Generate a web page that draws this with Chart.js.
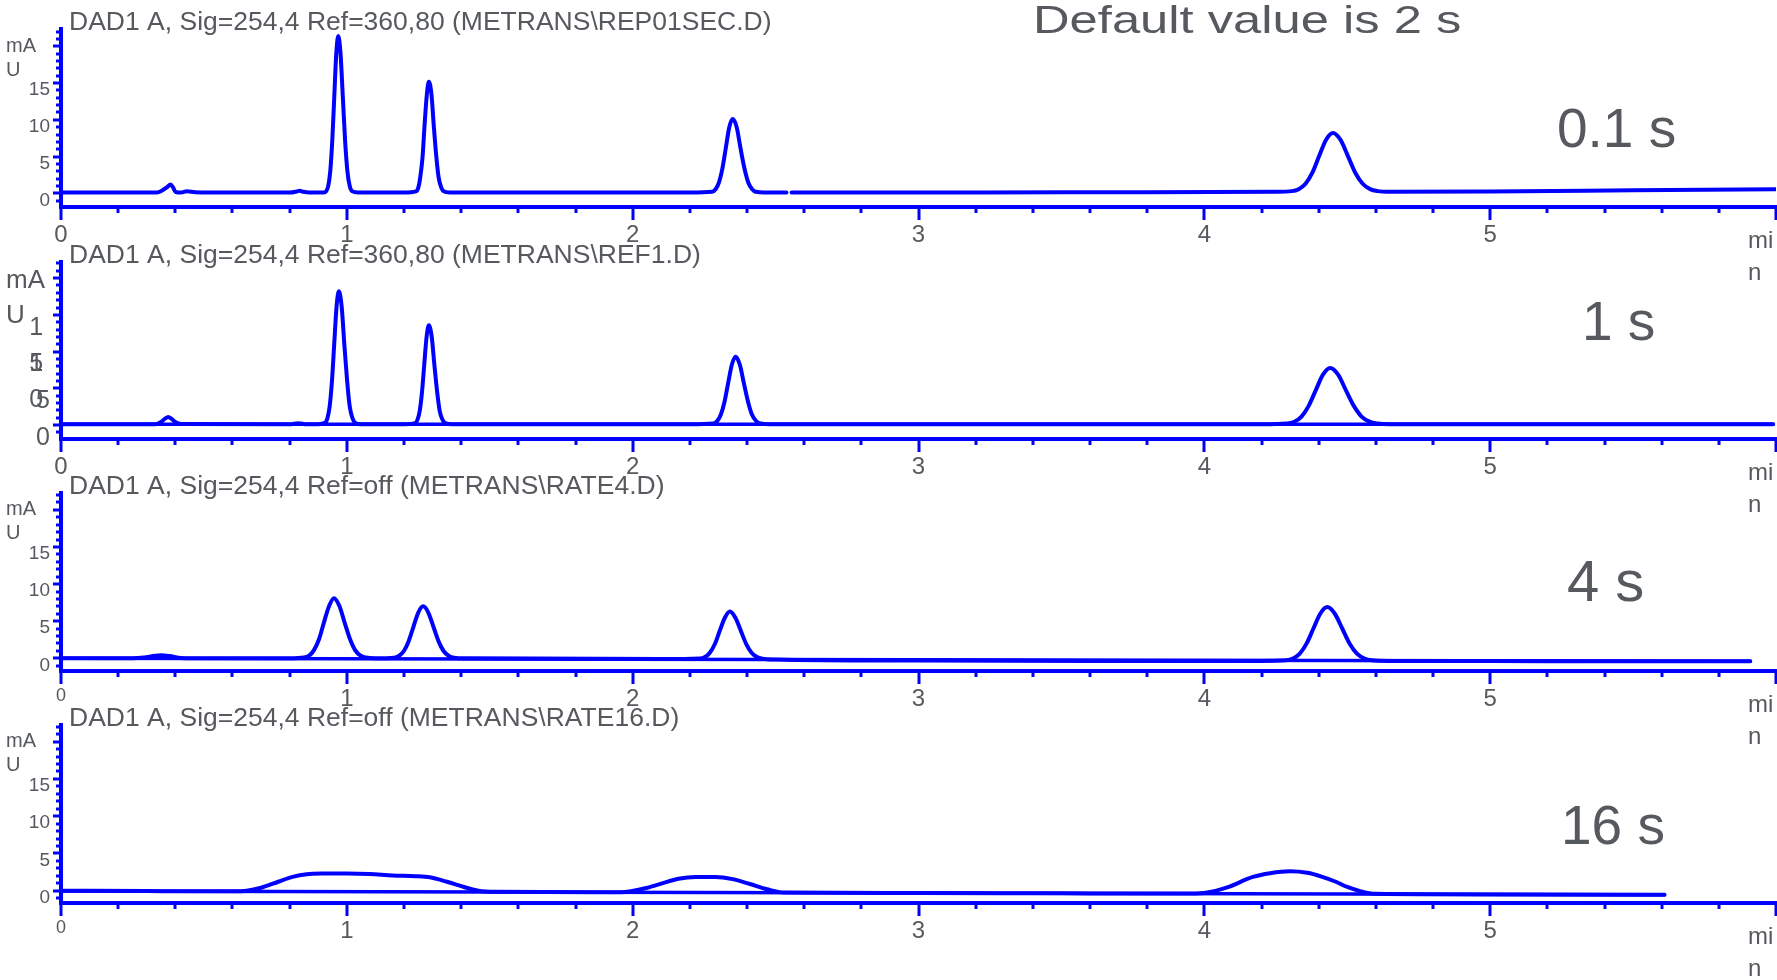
<!DOCTYPE html>
<html>
<head>
<meta charset="utf-8">
<title>DAD1 A response time</title>
<script src="https://cdn.jsdelivr.net/npm/chart.js@4.4.1/dist/chart.umd.min.js"></script>
<style>
  html, body { margin: 0; padding: 0; background: #fff; overflow: hidden; }
  #wrap { position: relative; width: 1777px; height: 980px; }
  #wrap canvas { position: absolute; left: 0; top: 0; }
</style>
</head>
<body>
<div id="wrap">
  <canvas id="rep01" width="1777" height="980"></canvas>
  <canvas id="ref1" width="1777" height="980"></canvas>
  <canvas id="rate4" width="1777" height="980"></canvas>
  <canvas id="rate16" width="1777" height="980"></canvas>
</div>
<script>
// Tick labels
const xTickValues = [0, 1, 2, 3, 4, 5];
const yTickValues = [0, 5, 10, 15];
const yTickLabels = ['0', '5', '10', '15'];
const yTickLabelsWrapped = [['0', ''], ['5', ''], ['1 ', '0 '], ['1 ', '5 ']];

// REP01SEC.D - 0.1 s response time (min / mAU)
const rep01Time = [
  0, 0.20, 0.335, 0.355, 0.372, 0.383, 0.392, 0.400, 0.42, 0.44, 0.47, 0.60, 0.80, 0.825, 0.835, 0.848, 0.87, 0.918,
  0.928, 0.935, 0.942, 0.949, 0.956, 0.963, 0.970, 0.978, 0.986, 0.994, 1.002, 1.010, 1.018, 1.040,
  1.200, 1.242, 1.250, 1.257, 1.265, 1.272, 1.280, 1.287, 1.296, 1.304, 1.313, 1.321, 1.330, 1.338, 1.360,
  1.80, 2.20, 2.278, 2.290, 2.302, 2.314, 2.326, 2.338, 2.350, 2.364, 2.377, 2.391, 2.404, 2.418, 2.431, 2.460, 2.538, 2.547, 2.556, 3.20, 3.80, 4.25,
  4.306, 4.330, 4.354, 4.378, 4.402, 4.426, 4.450, 4.476, 4.502, 4.528, 4.554, 4.580, 4.606, 4.650, 5.00, 5.50, 6.00
];
const rep01Signal = [
  0.1, 0.1, 0.1, 0.4, 0.85, 1.2, 0.8, 0.2, 0.1, 0.28, 0.15, 0.1, 0.1, 0.25, 0.35, 0.2, 0.1, 0.1,
  0.3, 1.0, 3.0, 7.1, 13.1, 19.0, 21.4, 19.0, 13.1, 7.1, 3.0, 1.0, 0.3, 0.1,
  0.1, 0.27, 0.77, 2.2, 5.0, 9.3, 13.5, 15.2, 13.5, 9.3, 5.0, 2.2, 0.8, 0.3, 0.1,
  0.1, 0.1, 0.2, 0.55, 1.5, 3.4, 6.2, 9.0, 10.1, 9.0, 6.2, 3.4, 1.5, 0.55, 0.2, 0.1, 0.1, null, 0.1, 0.1, 0.15, 0.2,
  0.29, 0.56, 1.3, 2.8, 5.1, 7.3, 8.2, 7.3, 5.1, 2.8, 1.3, 0.56, 0.29, 0.2, 0.25, 0.4, 0.55
];

// REF1.D - 1 s response time
const ref1Time = [
  0, 0.33, 0.35, 0.365, 0.375, 0.385, 0.40, 0.42, 0.80, 0.83, 0.86, 0.90,
  0.924, 0.932, 0.940, 0.948, 0.956, 0.964, 0.972, 0.982, 0.991, 1.001, 1.010, 1.020, 1.029, 1.050,
  1.200, 1.239, 1.247, 1.255, 1.263, 1.271, 1.279, 1.287, 1.297, 1.306, 1.316, 1.325, 1.335, 1.344, 1.370,
  2.200, 2.282, 2.295, 2.308, 2.321, 2.334, 2.347, 2.360, 2.375, 2.389, 2.404, 2.418, 2.433, 2.447, 2.480,
  4.200, 4.290, 4.315, 4.340, 4.365, 4.390, 4.415, 4.440, 4.468, 4.495, 4.523, 4.550, 4.578, 4.605, 4.650, 5.30, 5.99
];
const ref1Signal = [
  0.1, 0.1, 0.4, 0.9, 1.1, 0.9, 0.4, 0.15, 0.1, 0.25, 0.1, 0.1,
  0.3, 0.9, 2.55, 6.0, 11.1, 16.1, 18.2, 16.1, 11.1, 6.0, 2.55, 0.9, 0.3, 0.1,
  0.1, 0.25, 0.7, 1.9, 4.5, 8.3, 12.0, 13.6, 12.0, 8.3, 4.5, 1.9, 0.7, 0.25, 0.1,
  0.1, 0.2, 0.5, 1.35, 3.1, 5.7, 8.2, 9.3, 8.2, 5.7, 3.1, 1.35, 0.5, 0.2, 0.1,
  0.1, 0.2, 0.45, 1.15, 2.6, 4.75, 6.85, 7.75, 6.85, 4.75, 2.6, 1.15, 0.45, 0.2, 0.1, 0.1, 0.1
];
const ref1BaseTime = [0, 5.99];
const ref1BaseValue = [0.1, 0.1];

// RATE4.D - 4 s response time
const rate4Time = [
  0, 0.25, 0.29, 0.33, 0.35, 0.38, 0.42, 0.50, 0.80,
  0.850, 0.868, 0.885, 0.903, 0.920, 0.938, 0.955, 0.974, 0.992, 1.011, 1.029, 1.048, 1.066, 1.100,
  1.165, 1.182, 1.199, 1.216, 1.233, 1.250, 1.267, 1.285, 1.303, 1.321, 1.339, 1.357, 1.375, 1.420,
  2.100, 2.235, 2.253, 2.270, 2.288, 2.305, 2.323, 2.340, 2.359, 2.378, 2.397, 2.416, 2.435, 2.454, 2.500,
  3.00, 3.60, 4.20, 4.286, 4.310, 4.334, 4.358, 4.382, 4.406, 4.430, 4.456, 4.482, 4.508, 4.534, 4.560, 4.586, 4.650, 5.20, 5.91
];
const rate4Signal = [
  0, 0, 0.1, 0.35, 0.4, 0.3, 0.05, 0, 0,
  0.1, 0.35, 1.1, 2.6, 4.85, 7.05, 8.1, 7.05, 4.85, 2.6, 1.1, 0.35, 0.1, 0,
  0.08, 0.31, 0.95, 2.28, 4.25, 6.17, 7.0, 6.17, 4.25, 2.28, 0.95, 0.31, 0.08, 0,
  -0.1, -0.03, 0.18, 0.76, 1.96, 3.75, 5.5, 6.3, 5.5, 3.75, 1.96, 0.76, 0.18, -0.05, -0.15,
  -0.3, -0.35, -0.35, -0.27, -0.03, 0.63, 2.01, 4.05, 6.04, 6.9, 6.04, 4.05, 2.01, 0.63, -0.03, -0.27, -0.35, -0.38, -0.4
];
const rate4BaseTime = [0, 5.91];
const rate4BaseValue = [0, -0.4];

// RATE16.D - 16 s response time
const rate16Time = [
  0, 0.30, 0.60, 0.65, 0.70, 0.76, 0.81, 0.86, 0.92, 1.00, 1.08, 1.16, 1.24, 1.29, 1.35, 1.41, 1.46, 1.52,
  1.96, 2.04, 2.10, 2.16, 2.22, 2.29, 2.35, 2.41, 2.47, 2.53, 3.00, 3.50,
  3.95, 4.01, 4.08, 4.17, 4.23, 4.30, 4.36, 4.41, 4.46, 4.50, 4.54, 4.60, 5.00, 5.61
];
const rate16Signal = [
  0, -0.05, -0.08, 0.0, 0.4, 1.2, 1.85, 2.2, 2.3, 2.32, 2.25, 2.05, 1.95, 1.8, 1.2, 0.5, 0.0, -0.15,
  -0.2, 0.3, 0.95, 1.6, 1.85, 1.85, 1.55, 0.9, 0.2, -0.25, -0.3, -0.35,
  -0.38, -0.25, 0.45, 1.85, 2.35, 2.6, 2.4, 1.9, 1.2, 0.5, 0.0, -0.42, -0.5, -0.55
];
const rate16BaseTime = [0, 5.61];
const rate16BaseValue = [-0.05, -0.55];

const TRACE = '#0000ff';
const INK = '#56595e';
const FONT = '"Liberation Sans", Arial, Helvetica, sans-serif';
Chart.defaults.font.family = FONT;

function points(xs, ys) {
  return xs.map((x, i) => ({ x: x, y: ys[i] }));
}

function drawText(ctx, text, x, y, size, stretch) {
  ctx.save();
  ctx.font = size + 'px ' + FONT;
  ctx.fillStyle = INK;
  ctx.textAlign = 'left';
  ctx.textBaseline = 'alphabetic';
  ctx.translate(x, y);
  ctx.scale(stretch, 1);
  ctx.fillText(text, 0, 0);
  ctx.restore();
}

// minor/major tick marks, unit labels, file title and response time
const axisDecor = {
  id: 'axisDecor',
  afterDraw(chart, args, opts) {
    const { ctx, chartArea: a, scales: { x, y } } = chart;
    ctx.save();
    ctx.strokeStyle = TRACE;
    ctx.lineWidth = 3;
    ctx.lineCap = 'butt';
    for (let i = 0; i <= 30; i++) {
      const px = Math.round(x.getPixelForValue(i / 5));
      const len = i % 5 === 0 ? 13 : 6;
      ctx.beginPath();
      ctx.moveTo(px, a.bottom);
      ctx.lineTo(px, a.bottom + len);
      ctx.stroke();
    }
    for (let v = Math.ceil(y.min); v <= y.max; v++) {
      const py = Math.round(y.getPixelForValue(v));
      const len = v % 5 === 0 ? 8 : 5;
      ctx.beginPath();
      ctx.moveTo(a.left, py);
      ctx.lineTo(a.left - len, py);
      ctx.stroke();
    }

    ctx.fillStyle = INK;
    ctx.textAlign = 'left';
    ctx.textBaseline = 'middle';
    ctx.font = opts.unitSize + 'px ' + FONT;
    const pUnit = y.getPixelForValue(20) + opts.unitShift;
    ctx.fillText('mA', 6, pUnit);
    ctx.fillText('U', 6, pUnit + opts.unitGap);
    ctx.font = '24px ' + FONT;
    const p6 = x.getPixelForValue(6);
    ctx.fillText('mi', p6 - 28, a.bottom + 34);
    ctx.fillText('n', p6 - 28, a.bottom + 66);
    ctx.restore();

    drawText(ctx, opts.title, 69, a.top + 1, 25, 1.06);
    drawText(ctx, opts.speed, opts.speedX, opts.speedY, opts.speedSize, 1);
    if (opts.note) drawText(ctx, opts.note, 1033, 33, 39, 1.3);
  }
};

function makePanel(id, p) {
  const datasets = [{
    data: points(p.time, p.signal),
    borderColor: TRACE,
    borderWidth: 4,
    pointRadius: 0,
    cubicInterpolationMode: 'monotone',
    borderJoinStyle: 'round',
    borderCapStyle: 'round',
    spanGaps: false
  }];
  if (p.baseTime) {
    datasets.push({
      data: points(p.baseTime, p.baseValue),
      borderColor: TRACE,
      borderWidth: 3.5,
      pointRadius: 0,
      tension: 0,
      borderCapStyle: 'round'
    });
  }
  const wrapped = !!p.wrappedY;
  return new Chart(document.getElementById(id), {
    type: 'line',
    data: { datasets: datasets },
    options: {
      responsive: false,
      animation: false,
      devicePixelRatio: 1,
      events: [],
      layout: { padding: { left: 0, right: 1, top: p.top, bottom: 980 - p.bottom - 40 } },
      plugins: {
        legend: { display: false },
        tooltip: { enabled: false },
        axisDecor: {
          title: p.title, speed: p.speed, speedX: p.speedX, speedY: p.speedY,
          speedSize: p.speedSize || 55, note: p.note,
          unitSize: wrapped ? 26 : 20, unitGap: wrapped ? 35 : 24, unitShift: wrapped ? 3 : 0
        }
      },
      scales: {
        x: {
          type: 'linear', min: 0, max: 6,
          grid: { display: false, drawTicks: false },
          border: { display: true, color: TRACE, width: 4 },
          ticks: {
            color: INK, padding: 14, maxRotation: 0, autoSkip: false,
            font: (c) => ({ size: (p.smallZero && c.tick && c.tick.value === 0) ? 18 : 24 }),
            callback: (v) => String(v)
          },
          afterBuildTicks: (s) => { s.ticks = xTickValues.map(v => ({ value: v })); },
          afterFit: (s) => { s.height = 40; s.paddingLeft = 0; s.paddingRight = 0; }
        },
        y: {
          type: 'linear', min: p.yMin, max: p.yMax,
          grid: { display: false, drawTicks: false },
          border: { display: true, color: TRACE, width: 4 },
          ticks: {
            color: INK,
            autoSkip: false,
            padding: 11,
            labelOffset: wrapped ? 31 : 7,
            font: wrapped ? { size: 25, lineHeight: 1.44 } : { size: 19 },
            callback: (v) => {
              const i = yTickValues.indexOf(v);
              return wrapped ? yTickLabelsWrapped[i] : yTickLabels[i];
            }
          },
          afterBuildTicks: (s) => { s.ticks = yTickValues.map(v => ({ value: v })); },
          afterFit: (s) => { s.width = 61; s.paddingTop = 0; s.paddingBottom = 0; }
        }
      }
    },
    plugins: [axisDecor]
  });
}

makePanel('rep01', {
  time: rep01Time, signal: rep01Signal,
  top: 29, bottom: 207, yMin: -1.87, yMax: 22.37,
  title: 'DAD1 A, Sig=254,4 Ref=360,80 (METRANS\\REP01SEC.D)',
  speed: '0.1 s', speedX: 1557, speedY: 147,
  note: 'Default value is 2 s'
});
makePanel('ref1', {
  time: ref1Time, signal: ref1Signal, baseTime: ref1BaseTime, baseValue: ref1BaseValue,
  top: 262, bottom: 439, yMin: -1.91, yMax: 22.2, wrappedY: true,
  title: 'DAD1 A, Sig=254,4 Ref=360,80 (METRANS\\REF1.D)',
  speed: '1 s', speedX: 1582, speedY: 340
});
makePanel('rate4', {
  time: rate4Time, signal: rate4Signal, baseTime: rate4BaseTime, baseValue: rate4BaseValue,
  top: 493, bottom: 671, yMin: -1.71, yMax: 22.28, smallZero: true,
  title: 'DAD1 A, Sig=254,4 Ref=off (METRANS\\RATE4.D)',
  speed: '4 s', speedX: 1567, speedY: 601, speedSize: 58
});
makePanel('rate16', {
  time: rate16Time, signal: rate16Signal, baseTime: rate16BaseTime, baseValue: rate16BaseValue,
  top: 725, bottom: 903, yMin: -1.65, yMax: 22.24, smallZero: true,
  title: 'DAD1 A, Sig=254,4 Ref=off (METRANS\\RATE16.D)',
  speed: '16 s', speedX: 1561, speedY: 844
});
</script>
</body>
</html>
